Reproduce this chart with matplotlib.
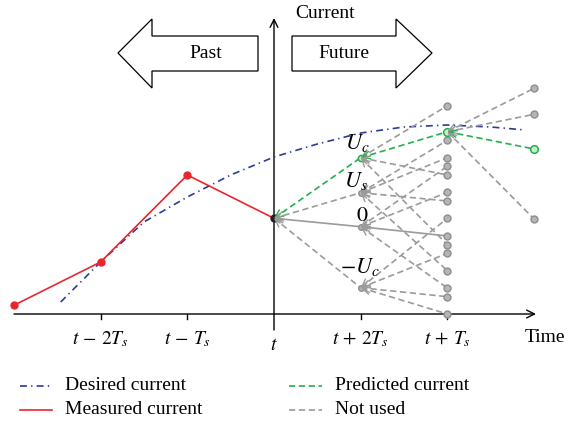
import matplotlib
matplotlib.use('Agg')
import matplotlib.pyplot as plt
from matplotlib.patches import Polygon

plt.rcParams['font.family'] = ['Liberation Serif', 'DejaVu Serif']
plt.rcParams['mathtext.fontset'] = 'stix'
plt.rcParams['lines.scale_dashes'] = False

# ---------------- data ----------------
tick_steps = [-2, -1, 0, 1, 2]
tick_labels = [r'$t\,-\,2T_s$', r'$t\,-\,T_s$', r'$t$', r'$t\,+\,2T_s$', r'$t\,+\,T_s$']

measured_steps = [-3, -2, -1, 0]
measured_vals = [8.7, 52, 139, 95.7]

desired_steps = [-2.46, -2.0, -1.5, -1.0, -0.5, 0.0, 0.5, 1.0, 1.5, 2.0, 2.5, 2.9]
desired_vals = [12, 52, 92, 117, 139, 157, 170, 181, 187, 189, 187, 184]

level1_vals = [156.3, 121.3, 87.3, 26.3]
level1_labels = [r'$U_c$', r'$U_s$', r'$0$', r'$-U_c$']
level2_vals = [[208.3, 182.3, 139.0, 69.3],
               [173.7, 156.3, 113.0, 43.3],
               [147.7, 121.7, 78.0, 26.0],
               [95.7, 60.7, 17.3, 0.0]]
level3_vals = [225.7, 199.7, 165.0, 95.0]
predicted_path = [95.7, 156.3, 182.3, 165.0]
zero_path = [95.7, 87.3, 78.0]

legend_labels = ['Desired current', 'Measured current', 'Predicted current', 'Not used']

# ---------------- styles ----------------
BLUE = '#2d3b96'
RED = '#e8272d'
GREEN = '#22b04a'
GRAY = '#9b9b9b'
DASH = (0, (4.5, 2.6))
DASHDOT = (0, (5, 3, 1, 3))

W, H = 567, 428
fig = plt.figure(figsize=(W / 100, H / 100), dpi=100)
ax = fig.add_axes([0, 0, 1, 1])
X0, DX, Y0 = 274, 86.7, 314
ax.set_xlim(-X0 / DX, (W - X0) / DX)
ax.set_ylim(Y0 - H, Y0)
ax.axis('off')


def P(px, py):
    return ((px - X0) / DX, Y0 - py)


# ---------------- axes ----------------
ax.annotate('', xy=P(536, 314), xytext=P(14, 314),
            arrowprops=dict(arrowstyle='->', lw=1.0, color='black',
                            shrinkA=0, shrinkB=0, mutation_scale=14))
ax.annotate('', xy=P(274, 18), xytext=P(274, 330),
            arrowprops=dict(arrowstyle='->', lw=1.0, color='black',
                            shrinkA=0, shrinkB=0, mutation_scale=14))
for k in tick_steps:
    if k != 0:
        ax.plot([k, k], [0, -5], color='black', lw=1.0)
for k, lab in zip(tick_steps, tick_labels):
    yy = 345 if k == 0 else 339
    ax.text(k, Y0 - yy, lab, ha='center', va='center', fontsize=14)
ax.text(*P(325, 13), 'Current', ha='center', va='center', fontsize=14)
ax.text(*P(545, 337), 'Time', ha='center', va='center', fontsize=14)

# ---------------- past / future arrows ----------------
past = [P(118, 53), P(152, 19), P(152, 36), P(258, 36), P(258, 71), P(152, 71), P(152, 88)]
future = [P(292, 36), P(396, 36), P(396, 19), P(432, 53), P(396, 88), P(396, 71), P(292, 71)]
for poly in (past, future):
    ax.add_patch(Polygon(poly, closed=True, facecolor='white', edgecolor='black', lw=0.9))
ax.text(*P(206, 53), 'Past', ha='center', va='center', fontsize=14)
ax.text(*P(344, 53), 'Future', ha='center', va='center', fontsize=14)

# ---------------- desired & measured ----------------
ax.plot(desired_steps, desired_vals, color=BLUE, lw=1.2, linestyle=DASHDOT, zorder=3)
ax.plot(measured_steps, measured_vals, color=RED, lw=1.2, zorder=4)
ax.plot(measured_steps[:-1], measured_vals[:-1], 'o', color=RED, ms=5, zorder=5)


# ---------------- prediction tree ----------------
def link(k_parent, v_parent, k_child, v_child, color, ls):
    ax.plot([k_parent, k_child], [v_parent, v_child], color=color, lw=1.2,
            linestyle=ls, zorder=3)
    f = 0.07
    xt = k_parent + (k_child - k_parent) * f
    yt = v_parent + (v_child - v_parent) * f
    ax.annotate('', xy=(k_parent, v_parent), xytext=(xt, yt),
                arrowprops=dict(arrowstyle='->,head_length=0.5,head_width=0.25',
                                color=color, lw=1.0,
                                shrinkA=0, shrinkB=0, mutation_scale=11),
                zorder=8)


t_val = measured_vals[-1]
for v1 in level1_vals:
    if v1 == predicted_path[1]:
        link(0, t_val, 1, v1, GREEN, DASH)
    elif v1 == zero_path[1]:
        link(0, t_val, 1, v1, GRAY, '-')
    else:
        link(0, t_val, 1, v1, GRAY, DASH)

for v1, kids in zip(level1_vals, level2_vals):
    for v2 in kids:
        if v1 == predicted_path[1] and v2 == predicted_path[2]:
            link(1, v1, 2, v2, GREEN, DASH)
        elif v1 == zero_path[1] and v2 == zero_path[2]:
            link(1, v1, 2, v2, GRAY, '-')
        else:
            link(1, v1, 2, v2, GRAY, DASH)

for v3 in level3_vals:
    if v3 == predicted_path[3]:
        link(2, predicted_path[2], 3, v3, GREEN, DASH)
    else:
        link(2, predicted_path[2], 3, v3, GRAY, DASH)

# nodes
gray_kw = dict(marker='o', ms=5, mfc='#b5b5b5', mec='#8e8e8e', mew=1.0, ls='none', zorder=6)
green_kw = dict(marker='o', ms=5.5, mfc='#c9ebcf', mec=GREEN, mew=1.1, ls='none', zorder=7)
for v1 in level1_vals:
    kw = dict(green_kw, ms=4.5) if v1 == predicted_path[1] else dict(gray_kw, ms=4)
    ax.plot([1], [v1], **kw)
for kids in level2_vals:
    for v2 in kids:
        kw = green_kw if v2 == predicted_path[2] else gray_kw
        ax.plot([2], [v2], **kw)
for v3 in level3_vals:
    kw = green_kw if v3 == predicted_path[3] else gray_kw
    ax.plot([3], [v3], **kw)
ax.plot([0], [t_val], 'o', color='#222222', ms=5, zorder=7)

label_pos = [(357, 143), (356, 181), (362, 216), (360, 267)]
for (px, py), lab in zip(label_pos, level1_labels):
    ax.text(*P(px, py), lab, ha='center', va='center', fontsize=16, zorder=9)

# ---------------- legend ----------------
leg_rows = [(20, 52, 386, BLUE, DASHDOT, 65),
            (20, 52, 410, RED, '-', 65),
            (289, 322, 386, GREEN, DASH, 335),
            (289, 322, 410, GRAY, DASH, 335)]
for (x1, x2, yy, c, ls, tx), lab in zip(leg_rows, legend_labels):
    a = P(x1, yy)
    b = P(x2, yy)
    ax.plot([a[0], b[0]], [a[1], b[1]], color=c, lw=1.2, linestyle=ls)
    ax.text(*P(tx, yy), lab, ha='left', va='center', fontsize=14)

fig.savefig('out.png', dpi=100)
